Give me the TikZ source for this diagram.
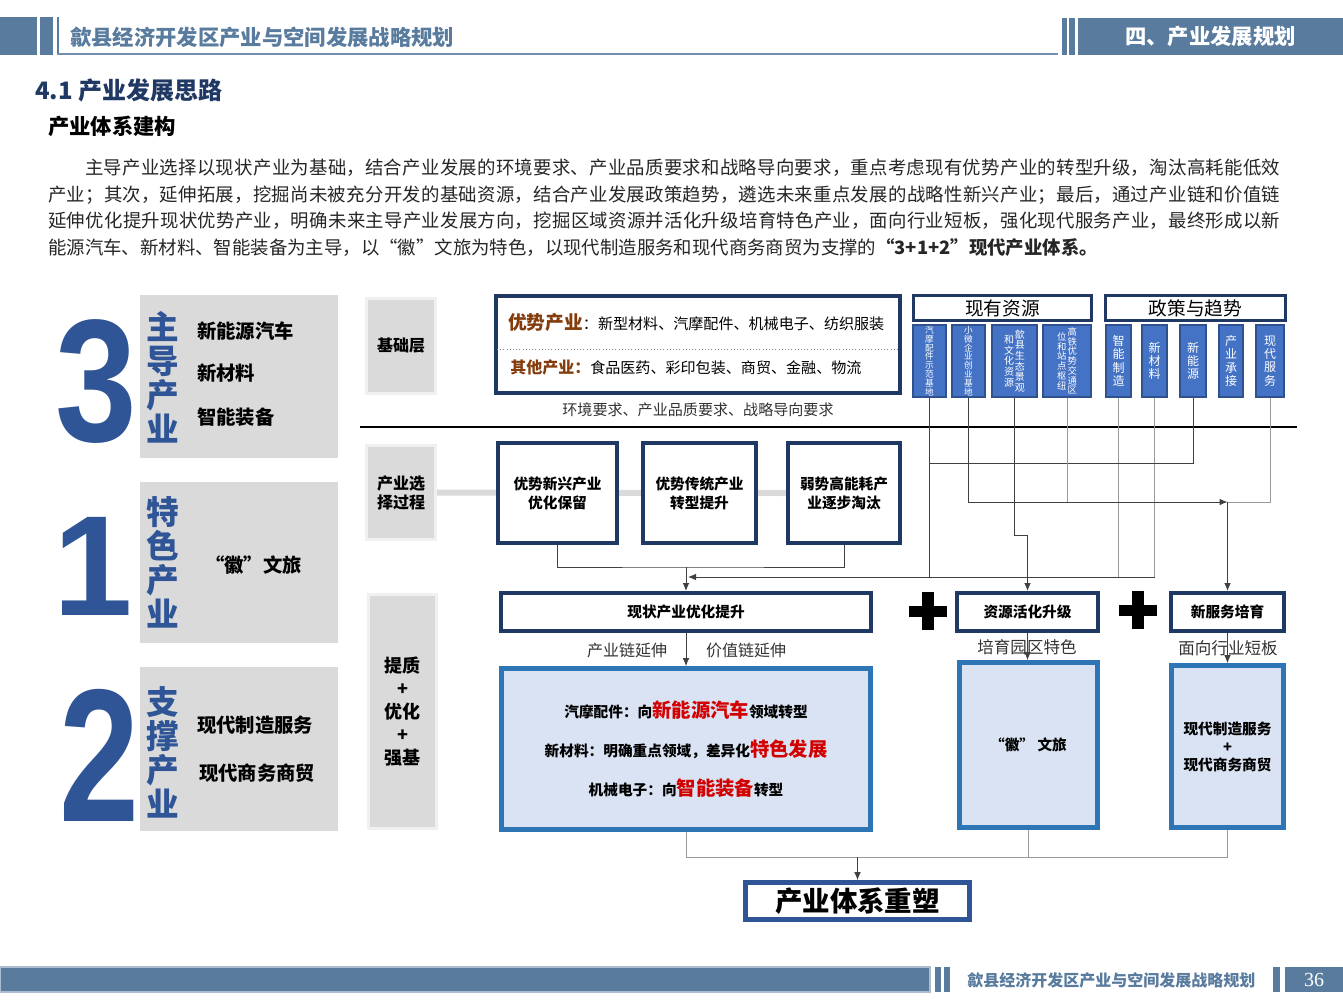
\documentclass[tikz,border=0pt]{standalone}
\usepackage{fontspec}
\setmainfont{Noto Sans CJK SC}
\newfontfamily\numfont{Liberation Sans}
\newfontfamily\pagefont{Liberation Serif}
\usetikzlibrary{arrows.meta,backgrounds}
\XeTeXlinebreaklocale "zh"
\XeTeXlinebreakskip=0pt plus 2pt
\definecolor{hdrblue}{RGB}{88,123,158}
\definecolor{navy}{RGB}{31,56,100}
\definecolor{numblue}{RGB}{47,85,151}
\definecolor{panelgray}{RGB}{218,218,218}
\definecolor{lblrim}{RGB}{240,240,240}
\definecolor{colblue}{RGB}{68,114,196}
\definecolor{colrim}{RGB}{47,82,143}
\definecolor{lbfill}{RGB}{218,227,243}
\definecolor{lbrim}{RGB}{46,117,182}
\definecolor{advbrown}{RGB}{132,60,12}
\definecolor{hotred}{RGB}{210,0,0}
\newcommand\fsz[2]{\fontsize{#1}{#2}\selectfont}
\newcommand\hot[1]{{\fsz{14.5}{29.25}\color{hotred}#1}}
\begin{document}
\begin{tikzpicture}[x=0.75pt, y=-0.75pt,
    sz/.style 2 args={minimum width=#1*0.75pt, minimum height=#2*0.75pt},
    panel/.style={fill=panelgray, inner sep=0},
    vword/.style={text width=27pt, align=center, inner sep=0, text=numblue, font=\fsz{24.5}{25.5}\bfseries},
    item/.style={anchor=west, inner sep=0, font=\fsz{14.5}{16}\bfseries},
    lblbox/.style={fill=panelgray, draw=lblrim, line width=2pt, inner sep=0, align=center, font=\fsz{12}{14.3}\bfseries},
    navybox/.style={draw=navy, line width=3pt, fill=white, inner sep=0, align=center, font=\fsz{11}{14.3}\bfseries},
    headbox/.style={draw=navy, line width=2.25pt, fill=white, inner sep=0, font=\fsz{14}{16}},
    colbox/.style={draw=colrim, line width=0.8pt, fill=colblue, text=white, inner sep=0, align=center},
    lightbox/.style={draw=lbrim, line width=3.5pt, fill=lbfill, inner sep=0, align=center, font=\fsz{11}{13.5}\bfseries},
    note/.style={inner sep=0, text=black!80, font=\fsz{12}{14}},
    link/.style={draw=black!75, line width=0.75pt},
    glink/.style={draw=black!40, line width=0.75pt},
    arr/.style={link, -{Latex[length=6pt,width=5pt]}},
    band/.style={draw=panelgray, line width=4.5pt}]
\useasboundingbox (0,0) rectangle (1343,1007);
\fill[hdrblue] (0,17) rectangle (37,55);
\fill[hdrblue] (40,17) rectangle (53,55);
\fill[hdrblue] (57,17) rectangle (59,55);
\fill[hdrblue!85] (57,53) rectangle (1058,55);
\fill[hdrblue] (1062,18) rectangle (1067,55);
\fill[hdrblue] (1069,18) rectangle (1075,55);
\node[anchor=west, inner sep=0, text=hdrblue, font=\fsz{16}{18}\bfseries] (title) at (70,37) {歙县经济开发区产业与空间发展战略规划};
\node[fill=hdrblue, sz={265}{37}, inner sep=0, text=white, font=\fsz{16}{18}\bfseries] (sect) at (1210.5,36.5) {四、产业发展规划};
\node[anchor=west, inner sep=0, text=navy, font=\fsz{18}{20}\bfseries] (sec41) at (35,90) {4.1 产业发展思路};
\node[anchor=west, inner sep=0, font=\fsz{16}{18}\bfseries] (sub) at (48,126) {产业体系建构};
\node[anchor=north west, inner sep=0, text width=924pt, align=justify, text=black!85, font=\fsz{13.8}{19.9}] (intro) at (48,159) {\hspace*{2em}主导产业选择以现状产业为基础，结合产业发展的环境要求、产业品质要求和战略导向要求，重点考虑现有优势产业的转型升级，淘汰高耗能低效\linebreak 产业；其次，延伸拓展，挖掘尚未被充分开发的基础资源，结合产业发展政策趋势，遴选未来重点发展的战略性新兴产业；最后，通过产业链和价值链\linebreak 延伸优化提升现状优势产业，明确未来主导产业发展方向，挖掘区域资源并活化升级培育特色产业，面向行业短板，强化现代服务产业，最终形成以新\linebreak 能源汽车、新材料、智能装备为主导，以“徽”文旅为特色，以现代制造服务和现代商务商贸为支撑的{\bfseries “3+1+2”现代产业体系。}};

\node[panel, sz={198}{163}] (pnl1) at (239,376.5) {};
\node[panel, sz={198}{161}] (pnl2) at (239,562.5) {};
\node[panel, sz={198}{164}] (pnl3) at (239,749) {};
\node[inner sep=0, text=numblue, font=\numfont\bfseries\fsz{131}{131}] (n3) at (96,381) {\scalebox{0.84}[1]{3}};
\node[inner sep=0, text=numblue, font=\numfont\bfseries\fsz{107}{107}] (n1) at (93,566) {1};
\node[inner sep=0, text=numblue, font=\numfont\bfseries\fsz{142}{142}] (n2) at (100,755) {\scalebox{0.76}[1]{2}};
\node[vword] (vw1) at (163,377.5) {主导产业};
\node[item] (i1) at (197,331) {新能源汽车};
\node[item] (i2) at (197,373) {新材料};
\node[item] (i3) at (197,417) {智能装备};
\node[vword] (vw2) at (163,562.5) {特色产业};
\node[item] (i4) at (205,565) {“徽”文旅};
\node[vword] (vw3) at (163,752.5) {支撑产业};
\node[item] (i5) at (197,725) {现代制造服务};
\node[item] (i6) at (199,773) {现代商务商贸};

\node[lblbox, sz={69}{95}] (base) at (401,346) {基础层};
\node[lblbox, sz={69}{94}] (select) at (401,492.5) {产业选\\择过程};
\node[lblbox, sz={68}{234}, font=\fsz{13.5}{17.3}\bfseries] (upgrade) at (402.5,711.5) {提质\\+\\优化\\+\\强基};
\draw[line width=2pt] (360,427) -- (1297,427);

\node[navybox, sz={404}{97}] (adv) at (698,344.5) {};
\draw[black!50, dotted] (497,349) -- (900,349);
\node[anchor=west, inner sep=0] (advA) at (508,322) {{\fsz{14}{16}\bfseries\color{advbrown}优势产业}{\fsz{11.3}{14}：新型材料、汽摩配件、机械电子、纺织服装}};
\node[anchor=west, inner sep=0] (advB) at (510,367) {{\fsz{12}{14}\bfseries\color{advbrown}其他产业：}{\fsz{11.3}{14}食品医药、彩印包装、商贸、金融、物流}};
\node[note, font=\fsz{11.3}{14}] (req) at (698,410) {环境要求、产业品质要求、战略导向要求};

\node[headbox, sz={178}{25}] (res) at (1002.5,308) {现有资源};
\node[headbox, sz={180}{25}] (pol) at (1195.5,308) {政策与趋势};
\node[colbox, sz={33}{72}, text width=7pt, font=\fsz{6.5}{6.6}] (c1) at (929.5,361) {汽摩配件示范基地};
\node[colbox, sz={33}{72}, text width=7pt, font=\fsz{6.5}{6.6}] (c2) at (968.5,361) {小微企业创业基地};
\node[colbox, sz={45}{72}, font=\fsz{7.5}{8}] (c3) at (1014.5,361) {\parbox{8pt}{\centering 和文化资源}\parbox{8pt}{\centering 歙县生态景观}};
\node[colbox, sz={48}{72}, font=\fsz{7}{7.3}] (c4) at (1067,361) {\parbox{8pt}{\centering 位和站点枢纽}\parbox{8pt}{\centering 高铁优势交通区}};
\node[colbox, sz={25}{72}, text width=10pt, font=\fsz{9}{10}] (p1) at (1118.5,361) {智能制造};
\node[colbox, sz={25}{72}, text width=10pt, font=\fsz{9}{10}] (p2) at (1154.5,361) {新材料};
\node[colbox, sz={26}{72}, text width=10pt, font=\fsz{9}{10}] (p3) at (1193,361) {新能源};
\node[colbox, sz={24}{72}, text width=10pt, font=\fsz{9}{10}] (p4) at (1231,361) {产业承接};
\node[colbox, sz={28}{72}, text width=10pt, font=\fsz{9}{10}] (p5) at (1270,361) {现代服务};

\node[navybox, sz={119}{100}] (b1) at (557.5,493) {优势新兴产业\\优化保留};
\node[navybox, sz={113}{100}] (b2) at (699.5,493) {优势传统产业\\转型提升};
\node[navybox, sz={112}{100}] (b3) at (844,493) {弱势高能耗产\\业逐步淘汰};
\node[navybox, sz={370}{38}] (cur) at (686,612) {现状产业优化提升};
\node[navybox, sz={141}{38}] (hz) at (1027.5,612) {资源活化升级};
\node[navybox, sz={113}{38}] (fw) at (1227.5,612) {新服务培育};
\fill (909,606) rectangle (947,617);
\fill (922,592) rectangle (934,630);
\fill (1119,605) rectangle (1157,616);
\fill (1132,591) rectangle (1144,629);
\node[note] (chainA) at (627,650) {产业链延伸};
\node[note] (chainB) at (746,650) {价值链延伸};
\node[note, font=\fsz{12.4}{14}] (parkN) at (1027,647) {培育园区特色};
\node[note, font=\fsz{12.4}{14}] (gapN) at (1228,648) {面向行业短板};

\node[lightbox, sz={369}{161}, font=\fsz{11}{29.25}\bfseries] (big) at (686,749) {汽摩配件：向\hot{新能源汽车}领域转型\\新材料：明确重点领域，差异化\hot{特色发展}\\机械电子：向\hot{智能装备}转型};
\node[lightbox, sz={138}{165}] (hui) at (1028.5,745) {“徽” 文旅};
\node[lightbox, sz={112}{162}] (srv) at (1227.5,746.5) {现代制造服务\\+\\现代商务商贸};
\node[draw=numblue, line width=3.5pt, fill=white, sz={224}{37}, inner sep=0, font=\fsz{20.6}{24}\bfseries] (sys) at (857.5,901) {产业体系重塑};

\coordinate (lowRow) at (0,577);
\coordinate (midRow) at (0,463);
\coordinate (svcRow) at (0,502);
\coordinate (resRow) at (0,535);
\coordinate (selArr) at (688,577);
\coordinate (svcJ) at (1227.5,502);
\coordinate (bJ) at (686,567);
\coordinate (sysJ) at (857.5,857);
\draw[link] (c1.south) -- (c1.south |- lowRow);
\draw[glink] (p1.south) -- (p1.south |- lowRow);
\draw[glink] (p2.south) -- (p2.south |- lowRow);
\draw[arr] (p2.south |- lowRow) -- (selArr);
\draw[link] (p3.south) |- (c1.south |- midRow);
\draw[arr] (c2.south) |- (svcJ);
\draw[glink] (c4.south) -- (c4.south |- svcRow);
\draw[glink] (p5.south) |- (svcJ);
\draw[arr] (svcJ) -- (fw.north);
\draw[arr] (c3.south) |- (hz.north |- resRow) -- (hz.north);
\draw[link] (b1.south) |- (bJ) -| (b3.south);
\draw[arr] (bJ) -- (cur.north);
\draw[arr] (cur.south) -- (big.north);
\draw[arr] (hz.south) -- (hz.south |- hui.north);
\draw[arr] (fw.south) -- (srv.north);
\draw[glink] (big.south) |- (srv.south |- sysJ) -- (srv.south);
\draw[glink] (hui.south) -- (hui.south |- sysJ);
\draw[arr] (sysJ) -- (sys.north);

\filldraw[fill=hdrblue, draw=hdrblue!50, line width=1pt] (0,967) rectangle (930,992);
\fill[hdrblue] (935,967) rectangle (941,992);
\fill[hdrblue] (944,967) rectangle (950,992);
\node[anchor=west, inner sep=0, text=hdrblue, font=\fsz{12}{14}\bfseries] (foot) at (967,980) {歙县经济开发区产业与空间发展战略规划};
\fill[hdrblue] (1273,967) rectangle (1280,992);
\node[fill=hdrblue, sz={58}{25}, inner sep=0, text=white, font=\pagefont\fsz{15}{16}] (page) at (1314,979.5) {36};

\begin{scope}[on background layer]
\fill[white] (0,0) rectangle (1343,1007);
\draw[band] (select.east) -- (b3.west);
\end{scope}
\end{tikzpicture}
\end{document}
